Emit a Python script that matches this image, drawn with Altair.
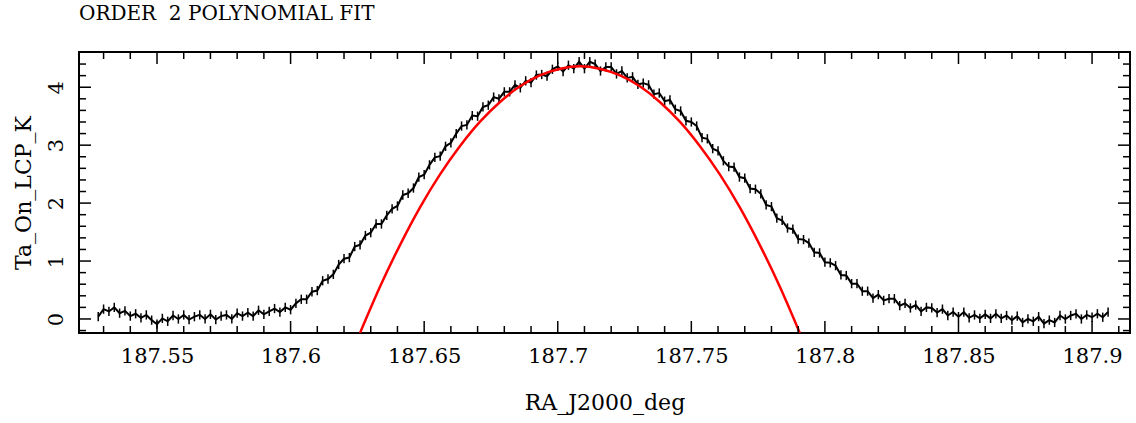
import altair as alt
import pandas as pd

TITLE = "ORDER \u00a02 POLYNOMIAL FIT"
X_TITLE = "RA_J2000_deg"
Y_TITLE = "Ta_On_LCP_K"

# scan samples (RA grid start / spacing) and measured antenna temperature
RA_START = 187.528
RA_STEP = 0.002
TA = [
    0.04, 0.17, 0.13, 0.20, 0.10, 0.14, 0.05, 0.09, 0.02, 0.07,
    -0.02, -0.09, 0.01, -0.04, 0.06, 0.00, 0.07, -0.01, 0.04, 0.07,
    0.00, 0.08, -0.01, 0.05, 0.07, 0.00, 0.10, 0.05, 0.11, 0.05,
    0.15, 0.08, 0.13, 0.18, 0.12, 0.20, 0.16, 0.27, 0.34, 0.34,
    0.47, 0.49, 0.66, 0.69, 0.77, 0.94, 1.04, 1.06, 1.25, 1.28,
    1.44, 1.49, 1.64, 1.64, 1.79, 1.90, 1.95, 2.14, 2.17, 2.26,
    2.45, 2.49, 2.66, 2.79, 2.81, 2.98, 3.04, 3.20, 3.33, 3.35,
    3.51, 3.50, 3.66, 3.69, 3.83, 3.80, 3.92, 3.92, 4.04, 3.99,
    4.11, 4.08, 4.21, 4.22, 4.19, 4.31, 4.36, 4.27, 4.38, 4.32,
    4.44, 4.32, 4.44, 4.40, 4.28, 4.35, 4.35, 4.23, 4.28, 4.16,
    4.18, 4.05, 4.07, 4.04, 3.88, 3.90, 3.76, 3.78, 3.62, 3.59,
    3.42, 3.40, 3.33, 3.13, 3.11, 2.94, 2.90, 2.73, 2.63, 2.62,
    2.45, 2.43, 2.25, 2.24, 2.16, 1.97, 1.94, 1.74, 1.70, 1.57,
    1.55, 1.38, 1.37, 1.31, 1.15, 1.14, 0.98, 0.97, 0.92, 0.76,
    0.75, 0.61, 0.61, 0.48, 0.48, 0.36, 0.42, 0.32, 0.35, 0.35,
    0.23, 0.27, 0.19, 0.24, 0.13, 0.20, 0.19, 0.11, 0.17, 0.06,
    0.12, 0.04, 0.12, 0.02, 0.07, 0.01, 0.08, 0.01, 0.09, 0.01,
    0.06, -0.02, 0.05, -0.06, 0.00, -0.04, 0.04, -0.08, -0.02, -0.06,
    0.06, 0.00, 0.06, 0.09, 0.00, 0.07, 0.03, 0.09, 0.03, 0.12,
]
TA_ERR = 0.08

# order-2 polynomial fit
FIT_RA = [187.626, 187.6335, 187.641, 187.6485, 187.656, 187.6635, 187.671,
          187.6785, 187.686, 187.6935, 187.701, 187.7083, 187.7156, 187.7231,
          187.7306, 187.7381, 187.7456, 187.7531, 187.7606, 187.7681,
          187.7756, 187.7831, 187.7906]
FIT_TA = [-0.24, 0.56, 1.28, 1.93, 2.50, 2.99, 3.41, 3.75, 4.02, 4.21, 4.32,
          4.36, 4.32, 4.21, 4.02, 3.75, 3.41, 2.99, 2.50, 1.93, 1.28, 0.56,
          -0.24]

X_MAJOR = [187.55, 187.6, 187.65, 187.7, 187.75, 187.8, 187.85, 187.9]
X_MINOR = [187.53, 187.54, 187.56, 187.57, 187.58, 187.59, 187.61, 187.62,
           187.63, 187.64, 187.66, 187.67, 187.68, 187.69, 187.71, 187.72,
           187.73, 187.74, 187.76, 187.77, 187.78, 187.79, 187.81, 187.82,
           187.83, 187.84, 187.86, 187.87, 187.88, 187.89, 187.91]
Y_MAJOR = [0, 1, 2, 3, 4]
Y_MINOR = [-0.2, 0.2, 0.4, 0.6, 0.8, 1.2, 1.4, 1.6, 1.8, 2.2, 2.4, 2.6, 2.8,
           3.2, 3.4, 3.6, 3.8, 4.2, 4.4]

X_DOMAIN = [187.5208, 187.9142]
Y_DOMAIN = [-0.242, 4.608]

W, H = 1051, 281
FONT = "DejaVu Serif"

ra = [RA_START + i * RA_STEP for i in range(len(TA))]
data = pd.DataFrame({"ra": ra, "ta": TA})
data["lo"] = data["ta"] - TA_ERR
data["hi"] = data["ta"] + TA_ERR
fit = pd.DataFrame({"ra": FIT_RA, "ta": FIT_TA})

xs = alt.Scale(domain=X_DOMAIN, nice=False, zero=False)
ys = alt.Scale(domain=Y_DOMAIN, nice=False, zero=False)

x_axis = alt.Axis(
    values=X_MAJOR, format=".5~r", ticks=False, tickSize=0, domain=False,
    grid=False, labelFont=FONT, labelFontSize=21, labelColor="black",
    labelPadding=29, labelBaseline="alphabetic", labelAlign="center",
    labelFlush=False, labelOverlap=False,
    title=X_TITLE, titleFont=FONT, titleFontSize=22, titleFontWeight="normal",
    titleColor="black", titleX=W / 2, titleY=76, titleAlign="center",
    titleBaseline="alphabetic", titleAnchor="middle",
)
y_axis = alt.Axis(
    values=Y_MAJOR, format="d", ticks=False, tickSize=0, domain=False,
    grid=False, labelFont=FONT, labelFontSize=21, labelColor="black",
    labelPadding=17, labelAngle=270, labelAlign="center",
    labelBaseline="alphabetic", labelFlush=False, labelOverlap=False,
    title=Y_TITLE, titleFont=FONT, titleFontSize=22, titleFontWeight="normal",
    titleColor="black", titleAngle=270, titleX=-49, titleY=H / 2,
    titleAlign="center", titleBaseline="alphabetic", titleAnchor="middle",
)

errbars = alt.Chart(data).mark_rule(color="black", strokeWidth=1.5).encode(
    x=alt.X("ra:Q", scale=xs, axis=x_axis),
    y=alt.Y("lo:Q", scale=ys, axis=y_axis),
    y2="hi:Q",
)
line = alt.Chart(data).mark_line(color="black", strokeWidth=2).encode(
    x=alt.X("ra:Q", scale=xs),
    y=alt.Y("ta:Q", scale=ys),
)
fit_line = alt.Chart(fit).mark_line(
    color="#ff0000", strokeWidth=2.5, interpolate="natural", clip=True
).encode(
    x=alt.X("ra:Q", scale=xs),
    y=alt.Y("ta:Q", scale=ys),
)


def xticks(values, length):
    df = pd.DataFrame({"ra": values})
    bottom = alt.Chart(df).mark_rule(color="black", strokeWidth=1.5).encode(
        x=alt.X("ra:Q", scale=xs), y=alt.value(H), y2=alt.value(H - length))
    top = alt.Chart(df).mark_rule(color="black", strokeWidth=1.5).encode(
        x=alt.X("ra:Q", scale=xs), y=alt.value(0), y2=alt.value(length))
    return [bottom, top]


def yticks(values, length):
    df = pd.DataFrame({"ta": values})
    left = alt.Chart(df).mark_rule(color="black", strokeWidth=1.5).encode(
        y=alt.Y("ta:Q", scale=ys), x=alt.value(0), x2=alt.value(length))
    right = alt.Chart(df).mark_rule(color="black", strokeWidth=1.5).encode(
        y=alt.Y("ta:Q", scale=ys), x=alt.value(W), x2=alt.value(W - length))
    return [left, right]


title = alt.Chart(pd.DataFrame({"t": [TITLE]})).mark_text(
    align="left", baseline="alphabetic", font=FONT, fontSize=20, color="black"
).encode(x=alt.value(0), y=alt.value(-32), text="t:N")

layers = [errbars, line, fit_line]
layers += xticks(X_MAJOR, 12) + xticks(X_MINOR, 7)
layers += yticks(Y_MAJOR, 12) + yticks(Y_MINOR, 7)
layers += [title]

chart = alt.layer(*layers).properties(
    width=W, height=H,
    autosize=alt.AutoSizeParams(type="none"),
    padding={"left": 79, "top": 52, "right": 6, "bottom": 90},
    background="white",
).configure_view(stroke="black", strokeWidth=2)

chart.save("out.html", embed_options={"renderer": "svg", "actions": False})
